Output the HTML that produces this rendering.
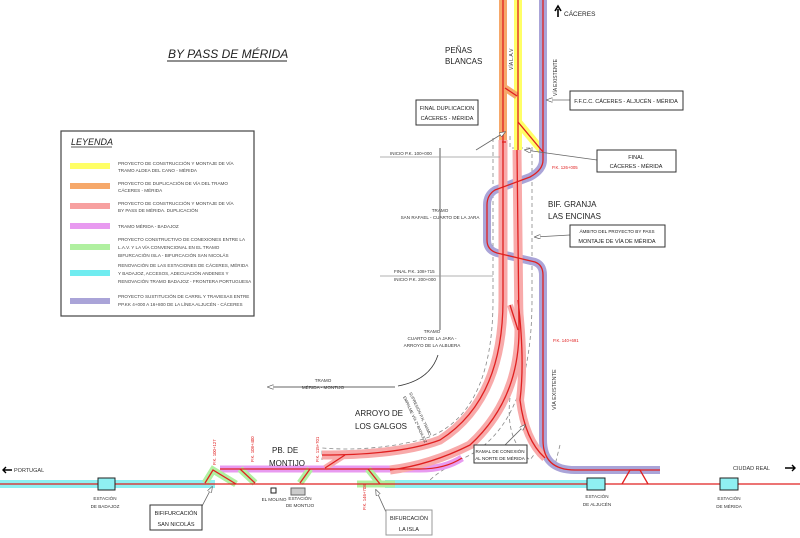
<!DOCTYPE html>
<html><head><meta charset="utf-8"><style>
html,body{margin:0;padding:0;background:#fff;}
svg{display:block;font-family:"Liberation Sans",sans-serif;}
</style></head><body>
<svg width="800" height="538" viewBox="0 0 800 538" xmlns="http://www.w3.org/2000/svg">
<defs>
<marker id="ah" markerWidth="8" markerHeight="6" refX="7" refY="3" orient="auto"><path d="M0,0 L8,3 L0,6 Z" fill="#fff" stroke="#555" stroke-width="0.8"/></marker>
</defs>
<rect width="800" height="538" fill="#fff"/>
<text x="168" y="58" font-size="12" font-style="italic" fill="#222">BY PASS DE MÉRIDA</text>
<line x1="167" y1="61" x2="287" y2="61" stroke="#222" stroke-width="1"/>
<rect x="61" y="131" width="193" height="185" fill="#fff" stroke="#444" stroke-width="1.2"/>
<text x="71" y="145" font-size="9" font-style="italic" fill="#222">LEYENDA</text>
<line x1="71" y1="147" x2="112" y2="147" stroke="#222" stroke-width="0.7"/>
<g font-size="4.6" fill="#444">
<rect x="70" y="163" width="40" height="6" fill="#ffff66"/>
<text x="118" y="165">PROYECTO DE CONSTRUCCIÓN Y MONTAJE DE VÍA</text><text x="118" y="172">TRAMO ALDEA DEL CANO - MÉRIDA</text>
<rect x="70" y="183" width="40" height="6" fill="#f6a86a"/>
<text x="118" y="185">PROYECTO DE DUPLICACIÓN DE VÍA DEL TRAMO</text><text x="118" y="192">CÁCERES - MÉRIDA</text>
<rect x="70" y="203" width="40" height="6" fill="#f7a0a0"/>
<text x="118" y="205">PROYECTO DE CONSTRUCCIÓN Y MONTAJE DE VÍA</text><text x="118" y="212">BY PASS DE MÉRIDA. DUPLICACIÓN</text>
<rect x="70" y="223" width="40" height="6" fill="#e89af0"/>
<text x="118" y="228">TRAMO MÉRIDA - BADAJOZ</text>
<rect x="70" y="244" width="40" height="6" fill="#b0f0a0"/>
<text x="118" y="241">PROYECTO CONSTRUCTIVO DE CONEXIONES ENTRE LA</text><text x="118" y="249">L.A.V. Y LA VÍA CONVENCIONAL EN EL TRAMO</text><text x="118" y="257">BIFURCACIÓN ISLA - BIFURCACIÓN SAN NICOLÁS</text>
<rect x="70" y="270" width="40" height="6" fill="#70ecf0"/>
<text x="118" y="267">RENOVACIÓN DE LAS ESTACIONES DE CÁCERES, MÉRIDA</text><text x="118" y="275">Y BADAJOZ, ACCESOS, ADECUACIÓN ANDENES Y</text><text x="118" y="283">RENOVACIÓN TRAMO BADAJOZ - FRONTERA PORTUGUESA</text>
<rect x="70" y="298" width="40" height="6" fill="#aaa4d8"/>
<text x="118" y="298">PROYECTO SUSTITUCIÓN DE CARRIL Y TRAVIESAS ENTRE</text><text x="118" y="306">PP.KK 4+000 A 16+800 DE LA LÍNEA ALJUCÉN - CÁCERES</text>
</g>

<g fill="none" stroke="#888" stroke-width="0.8" stroke-dasharray="4,3">
<path d="M493,138 L493,300 Q493,420 420,440 Q370,452 322,448 L322,460"/>
<path d="M532,140 L532,300 Q532,420 470,455 Q440,470 430,480"/>
<path d="M510,136 L510,148 L530,148"/>
<path d="M510,398 Q505,440 530,460 L536,452"/>
<path d="M560,445 L555,465"/>
</g>

<g fill="none" stroke-linecap="butt">
<path d="M0,484 L215,484" stroke="#8ff0f2" stroke-width="8"/>
<path d="M385,484 L592,484" stroke="#8ff0f2" stroke-width="8"/>
<path d="M220,469 L420,469 Q445,469 462,458" stroke="#e89af0" stroke-width="7"/>
<path d="M503,0 L503,140" stroke="#f6a86a" stroke-width="8"/>
<path d="M518,0 L518,150" stroke="#ffff66" stroke-width="8"/>
<path d="M518,122 L543,152" stroke="#ffff66" stroke-width="8"/>
<path d="M505,88 L517,96" stroke="#f6a86a" stroke-width="7"/>
<path d="M543,0 L543,160 Q543,170 530,177 L495,190 Q487,195 487,205 L487,240 Q487,250 497,253 L535,262 Q543,265 543,275 L543,440 Q543,470 575,470 L660,470" stroke="#aaa4d8" stroke-width="8"/>
<path d="M503,140 L503,300 Q503,400 440,440 Q400,455 322,455" stroke="#f8aaaa" stroke-width="9"/>
<path d="M517,150 L519,330 Q519,400 470,445 Q430,465 390,470" stroke="#f8aaaa" stroke-width="9"/>
<path d="M518,300 Q525,360 520,400 Q525,440 545,458" stroke="#f8aaaa" stroke-width="8"/>
<path d="M510,305 L518,330" stroke="#f8aaaa" stroke-width="6"/>
<path d="M325,468 L345,455" stroke="#f8aaaa" stroke-width="6"/>
<g stroke="#b0f0a0" stroke-width="7">
<path d="M205,483 L213,470 L236,484"/>
<path d="M240,469 L255,483"/>
<path d="M300,483 L310,469"/>
<path d="M368,469 L380,484"/>
<path d="M357,484 L395,484"/>
</g>
</g>
<g fill="none" stroke="#e02020" stroke-width="1.3">
<path d="M0,484 L800,484"/>
<path d="M220,469 L420,469 Q445,469 462,458"/>
<path d="M503,0 L503,140"/>
<path d="M518,0 L518,150"/>
<path d="M518,122 L543,152"/>
<path d="M505,88 L517,96"/>
<path d="M543,0 L543,160 Q543,170 530,177 L495,190 Q487,195 487,205 L487,240 Q487,250 497,253 L535,262 Q543,265 543,275 L543,440 Q543,470 575,470 L660,470"/>
<path d="M503,140 L503,300 Q503,400 440,440 Q400,455 322,455"/>
<path d="M517,150 L519,330 Q519,400 470,445 Q430,465 390,470"/>
<path d="M518,300 Q525,360 520,400 Q525,440 545,458"/>
<path d="M510,305 L518,330"/>
<path d="M325,468 L345,455"/>
<path d="M205,483 L213,470 L236,484"/>
<path d="M240,469 L255,483"/>
<path d="M300,483 L310,469"/>
<path d="M368,469 L380,484"/>
<path d="M622,484 L630,470 L640,470 L648,484"/>
<path d="M502,142 L506,142"/>
</g>
<g stroke="#222" stroke-width="1">
<rect x="98" y="478" width="17" height="12" fill="#8ff0f2"/>
<rect x="587" y="478" width="18" height="12" fill="#8ff0f2"/>
<rect x="720" y="478" width="18" height="12" fill="#8ff0f2"/>
<rect x="271" y="488" width="5" height="5" fill="#fff"/>
<rect x="291" y="488" width="14" height="7" fill="#ccc" stroke="#666"/>
</g>
<g stroke="#333" stroke-width="0.8" fill="none">
<line x1="440" y1="148" x2="440" y2="330"/>
<line x1="380" y1="157" x2="500" y2="157" stroke="#999"/>
<line x1="380" y1="276" x2="493" y2="276" stroke="#999"/>
<path d="M438,355 Q430,380 398,386"/>
<line x1="395" y1="387" x2="268" y2="387" marker-end="url(#ah)"/>
<line x1="476" y1="150" x2="505" y2="132" stroke="#666" marker-end="url(#ah)"/>
<line x1="570" y1="100" x2="547" y2="100" stroke="#666" marker-end="url(#ah)"/>
<line x1="597" y1="160" x2="525" y2="150" stroke="#666" marker-end="url(#ah)"/>
<line x1="570" y1="235" x2="535" y2="237" stroke="#666" marker-end="url(#ah)"/>
<line x1="505" y1="445" x2="525" y2="425" stroke="#666" marker-end="url(#ah)"/>
<line x1="200" y1="510" x2="212" y2="487" stroke="#666" marker-end="url(#ah)"/>
<line x1="386" y1="512" x2="376" y2="490" stroke="#666" marker-end="url(#ah)"/>
</g>
<g fill="#fff" stroke="#333" stroke-width="1">
<rect x="416" y="100" width="62" height="25"/>
<rect x="570" y="91" width="113" height="19"/>
<rect x="597" y="150" width="79" height="22"/>
<rect x="570" y="225" width="95" height="22"/>
<rect x="474" y="445" width="53" height="18"/>
<rect x="150" y="505" width="52" height="25"/>
<rect x="386" y="510" width="46" height="25" stroke="#999"/>
</g>
<g font-size="5.5" fill="#222" text-anchor="middle">
<text x="447" y="110">FINAL DUPLICACION</text><text x="447" y="120">CÁCERES - MÉRIDA</text>
<text x="626" y="103">F.F.C.C. CÁCERES - ALJUCÉN - MÉRIDA</text>
<text x="636" y="159">FINAL</text><text x="636" y="168">CÁCERES - MÉRIDA</text>
<text x="617" y="233" font-size="4.6">ÁMBITO DEL PROYECTO BY PASS</text><text x="617" y="243">MONTAJE DE VÍA DE MÉRIDA</text>
<text x="500" y="453" font-size="4.6">RAMAL DE CONEXIÓN</text><text x="500" y="460" font-size="4.6">AL NORTE DE MÉRIDA</text>
<text x="176" y="515">BIFIFURCACIÓN</text><text x="176" y="526">SAN NICOLÁS</text>
<text x="409" y="520">BIFURCACIÓN</text><text x="409" y="531">LA ISLA</text>
</g>
<g font-size="8" fill="#222">
<text x="445" y="53">PEÑAS</text><text x="445" y="64">BLANCAS</text>
<text x="548" y="207">BIF. GRANJA</text><text x="548" y="219">LAS ENCINAS</text>
<text x="355" y="416">ARROYO DE</text><text x="355" y="429">LOS GALGOS</text>
<text x="272" y="453">PB. DE</text><text x="269" y="466">MONTIJO</text>
<text x="564" y="16" font-size="6.5">CÁCERES</text>
</g>
<path d="M558,17 L558,9 M555,11 L558,6 L561,11" stroke="#000" stroke-width="1.6" fill="none"/>
<g font-size="5" fill="#333">
<text x="513" y="70" transform="rotate(-90 513 70)">VÍA L.A.V</text>
<text x="557" y="96" transform="rotate(-90 557 96)">VÍA EXISTENTE</text>
<text x="556" y="410" transform="rotate(-90 556 410)" font-size="5.5">VÍA EXISTENTE</text>
<text x="390" y="155" font-size="4.5">INICIO P.K. 100+000</text>
<text x="394" y="273" font-size="4.5">FINAL P.K. 108+715</text>
<text x="394" y="281" font-size="4.5">INICIO P.K. 200+000</text>
<g text-anchor="middle" font-size="4.6">
<text x="440" y="212">TRAMO</text><text x="440" y="219">SAN RAFAEL - CUARTO DE LA JARA</text>
<text x="432" y="333">TRAMO</text><text x="432" y="340">CUARTO DE LA JARA -</text><text x="432" y="347">ARROYO DE LA ALBUERA</text>
<text x="323" y="382">TRAMO</text><text x="323" y="389">MÉRIDA - MONTIJO</text>
<text x="105" y="500">ESTACIÓN</text><text x="105" y="508">DE BADAJOZ</text>
<text x="274" y="501">EL MOLINO</text>
<text x="300" y="500">ESTACIÓN</text><text x="300" y="507">DE MONTIJO</text>
<text x="597" y="498">ESTACIÓN</text><text x="597" y="506">DE ALJUCÉN</text>
<text x="729" y="500">ESTACIÓN</text><text x="729" y="508">DE MÉRIDA</text>
</g>
<text x="409" y="393" transform="rotate(65 409 393)" font-size="4">SUPRESIÓN P.N. TRAMO</text>
<text x="403" y="397" transform="rotate(65 403 397)" font-size="4">EMPALME VÍA 2ª BADAJOZ</text>
<text x="14" y="472" font-size="5.5">PORTUGAL</text>
<text x="733" y="470" font-size="5.5">CIUDAD REAL</text>
</g>
<path d="M3,470 L12,470 M6,467 L3,470 L6,473" stroke="#000" stroke-width="1.4" fill="none"/>
<path d="M785,468 L795,468 M792,465 L795,468 L792,471" stroke="#000" stroke-width="1.4" fill="none"/>
<g font-size="4.3" fill="#e02020">
<text x="552" y="169">P.K. 126+005</text>
<text x="553" y="342">P.K. 140+691</text>
<text x="216" y="465" transform="rotate(-90 216 465)">P.K. 100+127</text>
<text x="254" y="462" transform="rotate(-90 254 462)">P.K. 108+400</text>
<text x="319" y="462" transform="rotate(-90 319 462)">P.K. 115+701</text>
<text x="366" y="510" transform="rotate(-90 366 510)">P.K. 146+708</text>
</g>
</svg>
</body></html>
